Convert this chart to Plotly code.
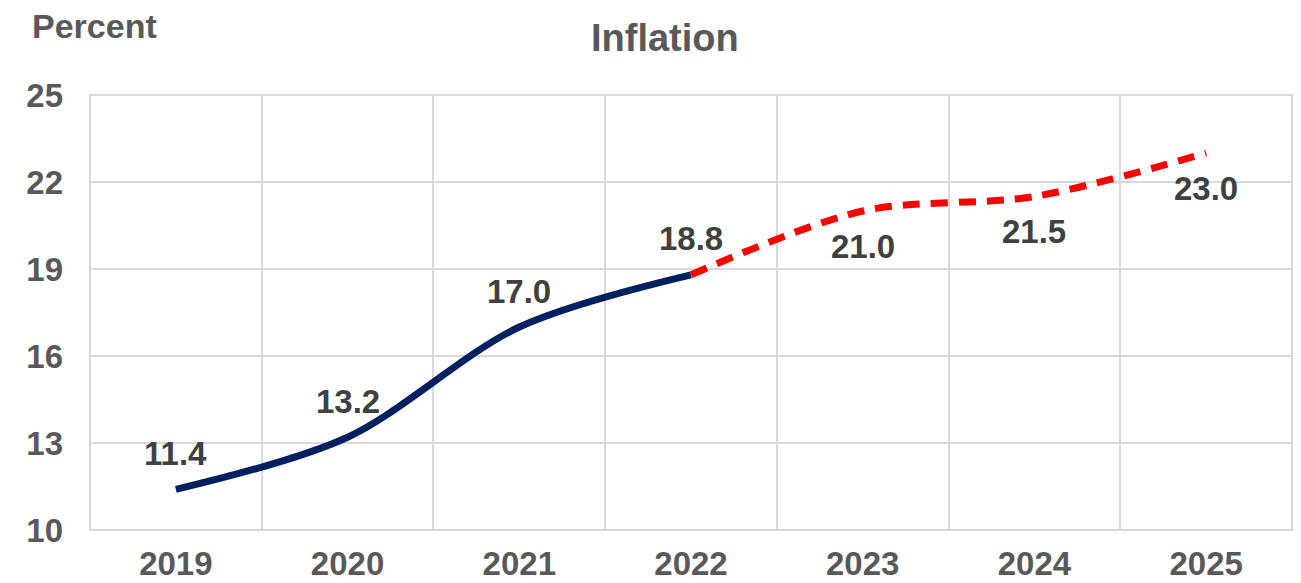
import plotly.graph_objects as go

years = ["2019", "2020", "2021", "2022", "2023", "2024", "2025"]
actual_years = ["2019", "2020", "2021", "2022"]
actual_values = [11.4, 13.2, 17.0, 18.8]
forecast_years = ["2022", "2023", "2024", "2025"]
forecast_values = [18.8, 21.0, 21.5, 23.0]

label_values = [11.4, 13.2, 17.0, 18.8, 21.0, 21.5, 23.0]
label_above = [True, True, True, True, False, False, False]

W, H = 1301, 583
L, R, T, B = 90, 9, 95, 53
FONT = "Liberation Sans, Arial, sans-serif"
GRID = "#d9d9d9"

fig = go.Figure()
fig.add_trace(go.Scatter(
    x=actual_years, y=actual_values, mode="lines",
    line=dict(color="#002060", width=7, shape="spline", smoothing=0.9),
    hoverinfo="skip", showlegend=False))
fig.add_trace(go.Scatter(
    x=forecast_years, y=forecast_values, mode="lines",
    line=dict(color="#ff0000", width=7, shape="spline", smoothing=0.9, dash="17px,11px"),
    hoverinfo="skip", showlegend=False))

annotations = []
for i, (v, above) in enumerate(zip(label_values, label_above)):
    annotations.append(dict(
        x=i, y=v, xref="x", yref="y", text=f"{v:.1f}", showarrow=False,
        yshift=36 if above else -35,
        font=dict(family=FONT, size=33, color="#404040", weight="bold")))


def page_to_paper(px, py):
    return (px - L) / (W - L - R), (H - py - B) / (H - T - B)


px, py = page_to_paper(30, 26)
annotations.append(dict(
    x=px, y=py, xref="paper", yref="paper", xanchor="left", yanchor="middle",
    text="Percent", showarrow=False,
    font=dict(family=FONT, size=34, color="#595959", weight="bold")))
px, py = page_to_paper(665, 38)
annotations.append(dict(
    x=px, y=py, xref="paper", yref="paper", xanchor="center", yanchor="middle",
    text="Inflation", showarrow=False,
    font=dict(family=FONT, size=38, color="#595959", weight="bold")))

fig.update_layout(
    width=W, height=H,
    margin=dict(l=L, r=R, t=T, b=B),
    paper_bgcolor="white", plot_bgcolor="white",
    annotations=annotations,
    shapes=[dict(type="rect", xref="paper", yref="paper", x0=0, x1=1, y0=0, y1=1,
                 line=dict(color=GRID, width=2), layer="below")],
    xaxis=dict(
        type="category", categoryorder="array", categoryarray=years,
        range=[-0.5, 6.5], tickson="boundaries", ticks="",
        showgrid=True, gridcolor=GRID, gridwidth=2,
        showline=False, zeroline=False, automargin=False,
        tickfont=dict(family=FONT, size=33, color="#595959", weight="bold"),
        ticklabelstandoff=11),
    yaxis=dict(
        range=[10, 25], tickvals=[10, 13, 16, 19, 22, 25],
        showgrid=True, gridcolor=GRID, gridwidth=2,
        showline=False, zeroline=False, ticks="", automargin=False,
        tickfont=dict(family=FONT, size=33, color="#595959", weight="bold"),
        ticklabelstandoff=26),
)

fig.write_html("out.html")
